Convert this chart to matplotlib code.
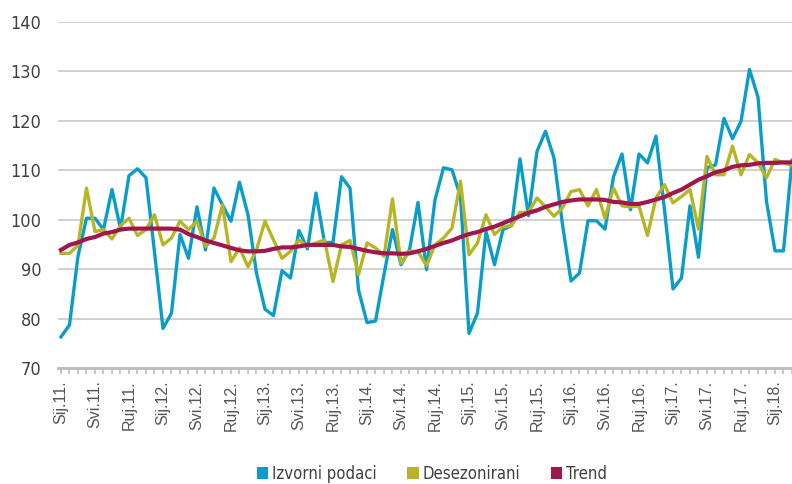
import matplotlib
matplotlib.use("Agg")
import matplotlib.pyplot as plt
from matplotlib.patches import Patch
from matplotlib import font_manager
import numpy as np

# Monthly data, Jan 2011 .. Mar 2018 (last point clipped by the plot edge)
izvorni = [76.3, 78.7, 92.6, 100.3, 100.3, 98.0, 106.1, 98.2, 108.9, 110.3,
           108.5, 93.5, 78.0, 81.1, 97.0, 92.2, 102.6, 93.9, 106.4, 103.0,
           99.7, 107.6, 101.0, 89.2, 81.9, 80.6, 89.7, 88.2, 97.8, 94.1,
           105.4, 95.4, 95.4, 108.7, 106.4, 85.8, 79.2, 79.5, 88.9, 98.0,
           90.9, 93.9, 103.5, 89.9, 104.0, 110.5, 110.1, 104.7, 77.0, 81.1,
           97.6, 90.9, 98.0, 98.8, 112.3, 100.8, 113.8, 117.9, 112.5, 99.0,
           87.6, 89.2, 99.8, 99.8, 98.1, 108.7, 113.3, 102.0, 113.3, 111.5,
           116.9, 102.0, 86.0, 88.2, 102.8, 92.4, 110.5, 111.1, 120.5, 116.4,
           119.9, 130.4, 124.8, 103.7, 93.7, 93.7, 112.0]
desezonirani = [93.2, 93.2, 94.8, 106.4, 97.6, 98.0, 96.1, 98.8, 100.3, 96.8,
                98.0, 101.0, 94.9, 96.3, 99.7, 98.0, 99.7, 94.6, 96.3, 103.0,
                91.5, 94.3, 90.5, 93.9, 99.7, 95.9, 92.2, 93.6, 95.9, 94.6,
                95.3, 95.9, 87.5, 94.9, 95.8, 88.9, 95.3, 94.3, 92.6, 104.2,
                91.2, 93.6, 93.6, 90.7, 94.9, 96.3, 98.3, 107.8, 92.9, 95.3,
                101.0, 97.0, 98.6, 98.8, 101.5, 101.5, 104.4, 102.6, 100.7, 102.4,
                105.7, 106.1, 102.8, 106.1, 100.3, 106.4, 102.8, 102.6, 102.8, 96.8,
                104.4, 107.1, 103.4, 104.7, 106.1, 98.1, 112.8, 109.1, 109.1, 114.9,
                109.1, 113.2, 111.5, 108.5, 112.2, 111.5, 111.0]
trend = [93.9, 94.9, 95.4, 96.1, 96.5, 97.2, 97.5, 98.0, 98.2, 98.2,
         98.2, 98.2, 98.2, 98.2, 98.0, 97.1, 96.5, 95.8, 95.3, 94.8,
         94.3, 93.8, 93.6, 93.6, 93.7, 94.1, 94.4, 94.4, 94.6, 94.9,
         94.9, 94.9, 94.9, 94.6, 94.5, 94.1, 93.7, 93.4, 93.2, 93.2,
         93.1, 93.2, 93.6, 94.1, 94.7, 95.3, 95.8, 96.5, 97.1, 97.5,
         98.1, 98.6, 99.3, 100.0, 100.7, 101.4, 101.9, 102.6, 103.1, 103.6,
         103.9, 104.1, 104.1, 104.1, 104.0, 103.6, 103.5, 103.2, 103.2, 103.6,
         104.1, 104.6, 105.4, 106.1, 107.1, 108.1, 108.8, 109.6, 110.0, 110.7,
         111.0, 111.1, 111.4, 111.5, 111.5, 111.6, 111.6]
tick_labels = ["Sij.11.", "Svi.11.", "Ruj.11.", "Sij.12.", "Svi.12.", "Ruj.12.",
               "Sij.13.", "Svi.13.", "Ruj.13.", "Sij.14.", "Svi.14.", "Ruj.14.",
               "Sij.15.", "Svi.15.", "Ruj.15.", "Sij.16.", "Svi.16.", "Ruj.16.",
               "Sij.17.", "Svi.17.", "Ruj.17.", "Sij.18."]
series_names = ["Izvorni podaci", "Desezonirani", "Trend"]
colors = ["#0A9DC9", "#B7B526", "#A0174E"]

plt.rcParams["font.family"] = ["Liberation Sans", "DejaVu Sans"]
cond_prop = font_manager.FontProperties(family=["DejaVu Sans"], stretch="condensed", size=12)

fig = plt.figure(figsize=(7.92, 4.84), dpi=100)
W, H = 792, 484
x0, x1, ytop, ybot = 58, 792, 22, 368
ax = fig.add_axes([x0 / W, 1 - ybot / H, (x1 - x0) / W, (ybot - ytop) / H])

x = np.arange(len(izvorni))
ax.plot(x, izvorni, color=colors[0], lw=2.4, zorder=3)
ax.plot(x, desezonirani, color=colors[1], lw=2.4, zorder=4)
ax.plot(x, trend, color=colors[2], lw=3.0, zorder=5)

px_per_month = 8.56
ax.set_xlim((x0 - 61) / px_per_month, (x1 - 61) / px_per_month)
ax.set_ylim(70, 140)
ax.set_yticks(np.arange(70, 141, 10))
ax.yaxis.grid(True, color="#C8C8C8", lw=1.2)
ax.set_axisbelow(True)
for s in ["top", "right", "left"]:
    ax.spines[s].set_visible(False)
ax.spines["bottom"].set_color("#BDBDBD")
ax.spines["bottom"].set_linewidth(2.0)

ax.set_xticks(np.arange(0, len(izvorni)), minor=True)
ax.set_xticks(np.arange(0, 4 * len(tick_labels), 4))
ax.set_xticklabels(tick_labels, rotation=90, fontsize=11.5, color="#555555")
ax.tick_params(axis="x", which="both", length=4, width=1.2, color="#BDBDBD", pad=5)
ax.tick_params(axis="y", length=0, pad=12)
for lbl in ax.get_yticklabels():
    lbl.set_fontproperties(cond_prop)
    lbl.set_fontsize(13)
    lbl.set_color("#404040")

handles = [Patch(facecolor=c, edgecolor="none") for c in colors]
leg = fig.legend(handles, series_names, loc="center", bbox_to_anchor=(432 / W, 1 - 474 / H),
                 ncol=3, frameon=False, handlelength=0.7, handleheight=0.7,
                 handletextpad=0.25, columnspacing=1.8, prop=cond_prop)
for t in leg.get_texts():
    t.set_color("#404040")

fig.savefig("out.png", dpi=100)
